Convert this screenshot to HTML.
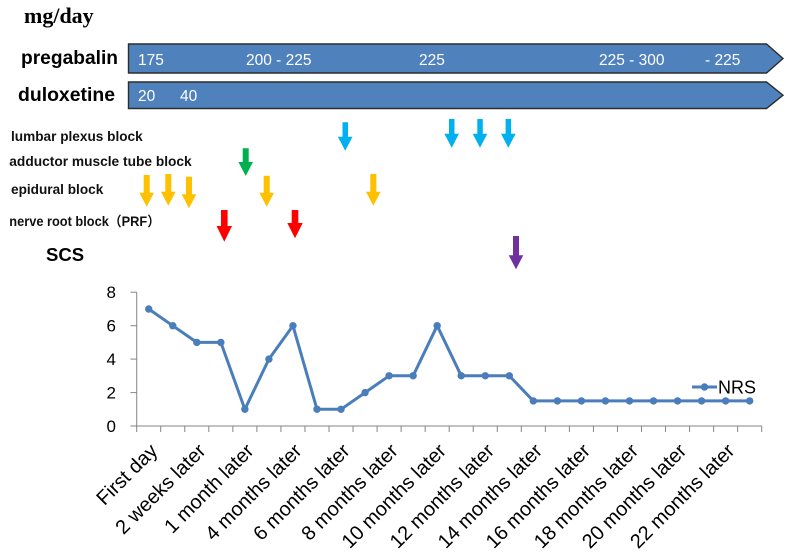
<!DOCTYPE html>
<html><head><meta charset="utf-8"><style>
html,body{margin:0;padding:0;background:#fff;}
svg{display:block;}
text{font-family:"Liberation Sans","Noto Sans CJK JP",sans-serif;}
</style></head><body>
<svg width="788" height="557" viewBox="0 0 788 557" xmlns="http://www.w3.org/2000/svg">
<rect width="788" height="557" fill="#fff"/>
<!-- header -->
<text x="24" y="23" font-weight="bold" font-size="22" style="font-family:'Liberation Serif',serif">mg/day</text>
<text x="21" y="64" font-weight="bold" font-size="19" textLength="97" lengthAdjust="spacingAndGlyphs">pregabalin</text>
<text x="18" y="101" font-weight="bold" font-size="19" textLength="97" lengthAdjust="spacingAndGlyphs">duloxetine</text>
<!-- bars -->
<path d="M128.5,44 L766.5,44 L783,58.5 L766.5,73 L128.5,73 Z" fill="#4F81BD" stroke="#2d2d2d" stroke-width="1.4"/>
<path d="M128.5,82 L766.5,82 L783,95.2 L766.5,108.5 L128.5,108.5 Z" fill="#4F81BD" stroke="#2d2d2d" stroke-width="1.4"/>
<g fill="#fff" font-size="15.5">
<text x="138" y="65">175</text>
<text x="246" y="65">200 - 225</text>
<text x="419" y="65">225</text>
<text x="599" y="65">225 - 300</text>
<text x="705" y="65">- 225</text>
<text x="138" y="101">20</text>
<text x="180" y="101">40</text>
</g>
<!-- row labels -->
<g font-weight="bold" font-size="13.6" fill="#111">
<text x="11" y="141" textLength="131.7" lengthAdjust="spacingAndGlyphs">lumbar plexus block</text>
<text x="9.3" y="166" textLength="182.4" lengthAdjust="spacingAndGlyphs">adductor muscle tube block</text>
<text x="11" y="194" textLength="92.3" lengthAdjust="spacingAndGlyphs">epidural block</text>
<text x="9.3" y="226" textLength="150.7" lengthAdjust="spacingAndGlyphs">nerve root block（PRF）</text>
</g>
<text x="46" y="261" font-weight="bold" font-size="18.5" fill="#000">SCS</text>
<!-- arrows -->
<g>
<path fill="#FFC000" d="M143.7,175 h6 v17.7 h4.3 l-7.3,14 l-7.3,-14 h4.3 Z"/>
<path fill="#FFC000" d="M165.3,174 h6 v17.7 h4.3 l-7.3,14 l-7.3,-14 h4.3 Z"/>
<path fill="#FFC000" d="M186,176.7 h6 v17.6 h4.3 l-7.3,14 l-7.3,-14 h4.3 Z"/>
<path fill="#FFC000" d="M263.7,175.7 h6 v17 h4.3 l-7.3,14 l-7.3,-14 h4.3 Z"/>
<path fill="#FFC000" d="M370.3,174 h6 v17.7 h4.3 l-7.3,14 l-7.3,-14 h4.3 Z"/>
<path fill="#00B050" d="M242.7,148.3 h6 v13.7 h4.3 l-7.3,14 l-7.3,-14 h4.3 Z"/>
<path fill="#00B0F0" d="M342.5,122.3 h5.5 v14.4 h4.5 l-7.3,14 l-7.3,-14 h4.6 Z"/>
<path fill="#00B0F0" d="M449,119 h5.5 v14.7 h4.5 l-7.3,14 l-7.3,-14 h4.6 Z"/>
<path fill="#00B0F0" d="M477.3,119 h5.5 v14.7 h4.5 l-7.3,14 l-7.3,-14 h4.6 Z"/>
<path fill="#00B0F0" d="M505.6,119 h5.5 v14.7 h4.5 l-7.3,14 l-7.3,-14 h4.6 Z"/>
<path fill="#FF0000" d="M221,210 h6.6 v16 h4.4 l-7.7,15.7 l-7.7,-15.7 h4.4 Z"/>
<path fill="#FF0000" d="M291.7,210 h6.6 v13 h4.4 l-7.7,15.3 l-7.7,-15.3 h4.4 Z"/>
<path fill="#7030A0" d="M513,236 h6 v19.3 h4.3 l-7.3,14 l-7.3,-14 h4.3 Z"/>
</g>
<!-- axes -->
<g stroke="#868686" stroke-width="1" fill="none">
<line x1="136.7" y1="292.2" x2="136.7" y2="426"/>
<line x1="130.5" y1="426" x2="761.7" y2="426"/>
<line x1="130.5" y1="292.2" x2="136.7" y2="292.2"/>
<line x1="130.5" y1="325.7" x2="136.7" y2="325.7"/>
<line x1="130.5" y1="359.1" x2="136.7" y2="359.1"/>
<line x1="130.5" y1="392.6" x2="136.7" y2="392.6"/>
<path d="M136.7,426v6 M160.74,426v6 M184.78,426v6 M208.81,426v6 M232.85,426v6 M256.89,426v6 M280.93,426v6 M304.97,426v6 M329.01,426v6 M353.04,426v6 M377.08,426v6 M401.12,426v6 M425.16,426v6 M449.2,426v6 M473.23,426v6 M497.27,426v6 M521.31,426v6 M545.35,426v6 M569.39,426v6 M593.43,426v6 M617.46,426v6 M641.5,426v6 M665.54,426v6 M689.58,426v6 M713.62,426v6 M737.66,426v6 M761.7,426v6"/>
</g>
<g font-size="17" fill="#000" text-anchor="end">
<text x="116" y="298.2">8</text>
<text x="116" y="331.7">6</text>
<text x="116" y="365.1">4</text>
<text x="116" y="398.6">2</text>
<text x="116" y="432">0</text>
</g>
<!-- series -->
<polyline fill="none" stroke="#4A7EBB" stroke-width="3" stroke-linejoin="round" points="148.72,309 172.76,325.7 196.8,342.4 220.83,342.4 244.87,409.3 268.91,359.1 292.95,325.7 316.99,409.3 341.03,409.3 365.07,392.6 389.11,375.8 413.14,375.8 437.18,325.7 461.22,375.8 485.26,375.8 509.3,375.8 533.34,400.9 557.38,400.9 581.41,400.9 605.45,400.9 629.49,400.9 653.53,400.9 677.57,400.9 701.61,400.9 725.65,400.9 749.68,400.9"/>
<g fill="#4A7EBB">
<circle cx="148.72" cy="309" r="3.7"/><circle cx="172.76" cy="325.7" r="3.7"/><circle cx="196.8" cy="342.4" r="3.7"/><circle cx="220.83" cy="342.4" r="3.7"/><circle cx="244.87" cy="409.3" r="3.7"/><circle cx="268.91" cy="359.1" r="3.7"/><circle cx="292.95" cy="325.7" r="3.7"/><circle cx="316.99" cy="409.3" r="3.7"/><circle cx="341.03" cy="409.3" r="3.7"/><circle cx="365.07" cy="392.6" r="3.7"/><circle cx="389.11" cy="375.8" r="3.7"/><circle cx="413.14" cy="375.8" r="3.7"/><circle cx="437.18" cy="325.7" r="3.7"/><circle cx="461.22" cy="375.8" r="3.7"/><circle cx="485.26" cy="375.8" r="3.7"/><circle cx="509.3" cy="375.8" r="3.7"/><circle cx="533.34" cy="400.9" r="3.7"/><circle cx="557.38" cy="400.9" r="3.7"/><circle cx="581.41" cy="400.9" r="3.7"/><circle cx="605.45" cy="400.9" r="3.7"/><circle cx="629.49" cy="400.9" r="3.7"/><circle cx="653.53" cy="400.9" r="3.7"/><circle cx="677.57" cy="400.9" r="3.7"/><circle cx="701.61" cy="400.9" r="3.7"/><circle cx="725.65" cy="400.9" r="3.7"/><circle cx="749.68" cy="400.9" r="3.7"/>
</g>
<!-- legend -->
<line x1="692" y1="387" x2="717" y2="387" stroke="#4A7EBB" stroke-width="3"/>
<circle cx="704.5" cy="387" r="3.7" fill="#4A7EBB"/>
<text x="718" y="393.5" font-size="18" fill="#000">NRS</text>
<!-- x labels -->
<g font-size="20" fill="#000" text-anchor="end">
<text transform="translate(158.7,452) rotate(-45)">First day</text>
<text transform="translate(206.8,452) rotate(-45)">2 weeks later</text>
<text transform="translate(254.9,452) rotate(-45)">1 month later</text>
<text transform="translate(302.9,452) rotate(-45)">4 months later</text>
<text transform="translate(351,452) rotate(-45)">6 months later</text>
<text transform="translate(399.1,452) rotate(-45)">8 months later</text>
<text transform="translate(447.2,452) rotate(-45)">10 months later</text>
<text transform="translate(495.3,452) rotate(-45)">12 months later</text>
<text transform="translate(543.3,452) rotate(-45)">14 months later</text>
<text transform="translate(591.4,452) rotate(-45)">16 months later</text>
<text transform="translate(639.5,452) rotate(-45)">18 months later</text>
<text transform="translate(687.6,452) rotate(-45)">20 months later</text>
<text transform="translate(735.7,452) rotate(-45)">22 months later</text>
</g>
</svg>
</body></html>
